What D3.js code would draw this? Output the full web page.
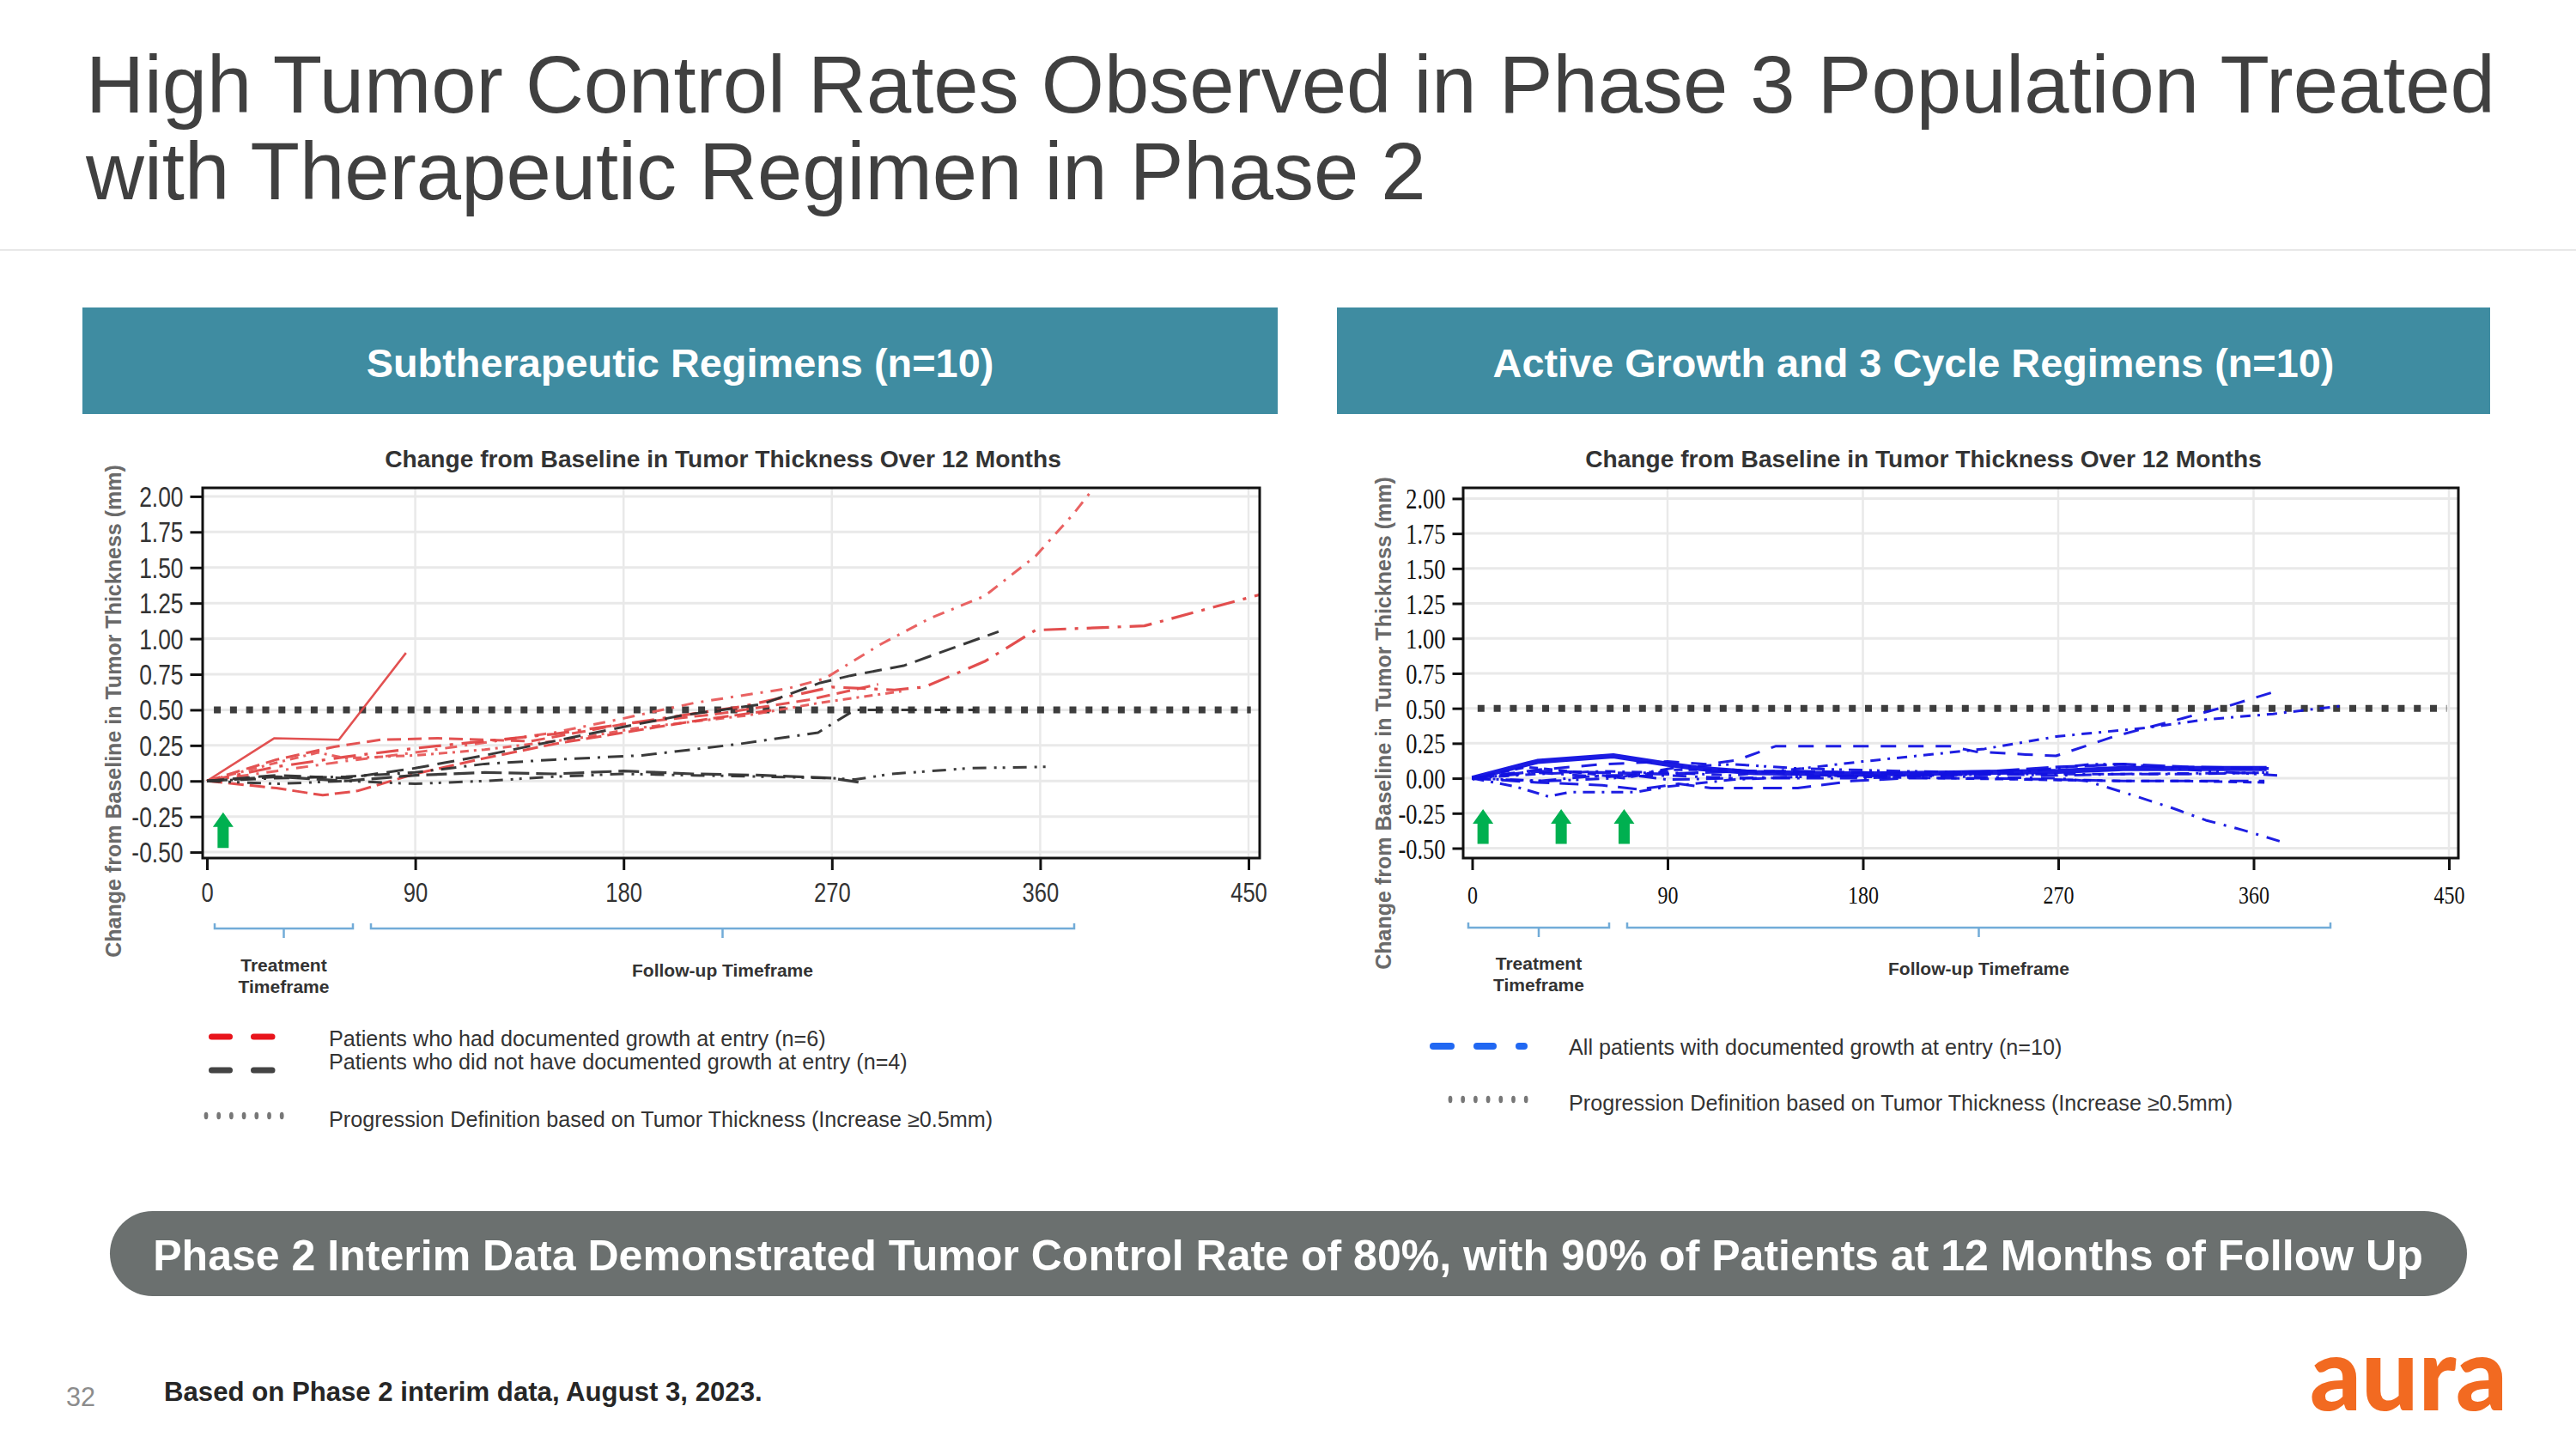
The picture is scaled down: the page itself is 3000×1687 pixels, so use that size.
<!DOCTYPE html>
<html><head><meta charset="utf-8">
<script src="https://cdn.jsdelivr.net/npm/d3@7"></script>
<style>html,body{margin:0;padding:0;background:#fff;}svg{display:block;}</style>
</head><body>
<svg id="c" width="3000" height="1687"></svg>
<script>
// ---------------- DATA ----------------
const xTicks = [0, 90, 180, 270, 360, 450];
const yTicks = [-0.50, -0.25, 0.00, 0.25, 0.50, 0.75, 1.00, 1.25, 1.50, 1.75, 2.00];
const progressionThreshold = 0.5;
const thresholdSpanLeft = [3, 451];
const thresholdSpanRight = [2.5, 449];
const leftArrowDays = [7];
const rightArrowDays = [5, 41, 70];
const arrowRange = [-0.47, -0.22];

// Subtherapeutic: documented growth at entry (red, n=6)
const red1 = [[0,0],[29,0.30],[57,0.29],[86,0.90]];
const red2 = [[0,0],[30,0.07],[60,0.14],[90,0.20],[120,0.27],[150,0.34],[180,0.44],[211,0.55],[251,0.65],[267,0.72],[291,0.96],[312,1.14],[336,1.30],[358,1.58],[374,1.87],[390,2.20]];
const red3 = [[0,0],[30,0.10],[60,0.17],[90,0.23],[120,0.28],[150,0.33],[180,0.40],[230,0.52],[270,0.66],[297,0.64],[310,0.66],[336,0.84],[358,1.06],[405,1.09],[455,1.31]];
const red4 = [[0,0],[30,0.15],[55,0.24],[75,0.29],[100,0.30],[140,0.28],[180,0.40],[220,0.47],[260,0.57],[290,0.68]];
const red5 = [[0,0],[28,0.12],[48,0.20],[60,0.16],[90,0.18],[120,0.22],[160,0.30],[185,0.37],[233,0.46],[265,0.55],[300,0.63]];
const red6 = [[0,0],[30,-0.05],[50,-0.10],[65,-0.07],[90,0.05],[120,0.16],[150,0.26],[180,0.34],[210,0.42],[245,0.50]];
// Subtherapeutic: no documented growth at entry (black, n=4)
const black1 = [[0,0],[30,0.04],[60,0.02],[90,0.09],[120,0.18],[150,0.28],[180,0.38],[205,0.46],[240,0.54],[265,0.69],[278,0.74],[301,0.81],[342,1.05]];
const black2 = [[0,0],[30,0.02],[60,0.03],[90,0.06],[120,0.12],[150,0.15],[188,0.18],[230,0.26],[264,0.34],[280,0.50],[332,0.50]];
const black3 = [[0,0],[30,-0.02],[60,0.00],[90,-0.02],[120,0.00],[150,0.03],[180,0.05],[210,0.04],[240,0.03],[270,0.02],[280,0.01],[296,0.05],[330,0.09],[365,0.10]];
const black4 = [[0,0],[30,0.03],[60,0.00],[90,0.04],[120,0.06],[150,0.05],[180,0.07],[210,0.05],[240,0.04],[270,0.02],[282,-0.01]];
// Active growth / 3 cycle regimens (blue, n=10)
const blue1 = [[0,0],[30,0.12],[65,0.16],[90,0.10],[105,0.07],[130,0.04],[180,0.03],[230,0.04],[270,0.05],[300,0.07],[330,0.07],[366,0.07]];
const blue2 = [[0,0],[30,0.06],[60,0.10],[90,0.12],[108,0.10],[122,0.13],[140,0.23],[220,0.23],[232,0.19],[255,0.17],[269,0.16],[296,0.30],[323,0.41],[349,0.52],[372,0.63]];
const blue3 = [[0,0],[30,0.03],[60,0.05],[90,0.04],[120,0.02],[152,0.07],[180,0.12],[205,0.16],[236,0.21],[270,0.30],[310,0.36],[338,0.42],[369,0.46],[402,0.52]];
const blue4 = [[0,0],[30,0.04],[60,0.01],[90,0.02],[120,0.00],[180,0.02],[230,0.01],[270,0.00],[283,-0.02],[300,-0.10],[322,-0.21],[338,-0.30],[355,-0.37],[372,-0.45]];
const blue5 = [[0,0],[30,-0.03],[60,-0.05],[77,-0.08],[95,-0.04],[110,-0.07],[150,-0.07],[175,-0.02],[200,0.00],[240,0.00],[270,-0.01],[300,-0.02],[330,-0.02],[365,-0.02]];
const blue6 = [[0,0],[20,-0.06],[35,-0.13],[45,-0.10],[75,-0.10],[90,-0.06],[120,-0.01],[150,0.01],[200,0.02],[250,0.03],[300,0.03],[365,0.04]];
const blue7 = [[0,0],[30,0.05],[60,0.04],[90,0.03],[120,0.05],[150,0.05],[180,0.04],[210,0.03],[240,0.05],[270,0.08],[300,0.10],[330,0.08],[367,0.07]];
const blue8 = [[0,0],[30,-0.02],[60,0.02],[75,0.02],[90,-0.01],[120,0.00],[150,0.00],[180,0.00],[210,0.02],[240,0.03],[270,0.02],[300,0.03],[330,0.03],[367,0.04]];
const blue9 = [[0,0],[25,0.08],[45,0.05],[70,0.00],[90,0.06],[120,0.06],[150,0.03],[180,0.01],[220,0.00],[260,-0.01],[300,-0.02],[330,-0.02],[365,-0.03]];
const blue10 = [[0,0],[35,-0.02],[65,0.00],[95,0.08],[120,0.10],[150,0.07],[200,0.05],[250,0.04],[285,0.10],[300,0.10],[340,0.05],[372,0.02]];

const titleLines = ["High Tumor Control Rates Observed in Phase 3 Population Treated", "with Therapeutic Regimen in Phase 2"];
const panelHeaders = ["Subtherapeutic Regimens (n=10)", "Active Growth and 3 Cycle Regimens (n=10)"];
const chartTitle = "Change from Baseline in Tumor Thickness Over 12 Months";
const yAxisTitle = "Change from Baseline in Tumor Thickness (mm)";
const leftLegend = ["Patients who had documented growth at entry (n=6)", "Patients who did not have documented growth at entry (n=4)", "Progression Definition based on Tumor Thickness (Increase \u22650.5mm)"];
const rightLegend = ["All patients with documented growth at entry (n=10)", "Progression Definition based on Tumor Thickness (Increase \u22650.5mm)"];
const bannerText = "Phase 2 Interim Data Demonstrated Tumor Control Rate of 80%, with 90% of Patients at 12 Months of Follow Up";
const footnote = "Based on Phase 2 interim data, August 3, 2023.";
const pageNumber = "32";
const logoText = "aura";

// ---------------- DRAWING ----------------
const SANS = "'Liberation Sans', Arial, Helvetica, sans-serif";
const SERIF = "'Liberation Serif', 'Times New Roman', serif";
const svg = d3.select('#c');
svg.append('rect').attr('width', 3000).attr('height', 1687).attr('fill', '#fff');

function txt(g, o) {
  const t = g.append('text')
    .attr('x', o.x)
    .attr('font-family', o.family || SANS)
    .attr('font-size', o.size)
    .attr('font-weight', o.weight || 'normal')
    .attr('fill', o.fill || '#333')
    .attr('text-anchor', o.anchor || 'start')
    .text(o.text);
  let size = o.size;
  if (o.width) {
    const l = t.node().getComputedTextLength();
    size = size * o.width / l;
    t.attr('font-size', size);
  }
  t.attr('y', o.cy + 0.358 * size);
  return size;
}

// Title
const tsize = txt(svg, {x: 100, cy: 97.6, text: titleLines[0], size: 90, fill: '#404040', width: 2806});
txt(svg, {x: 100, cy: 198, text: titleLines[1], size: tsize, fill: '#404040'});
svg.append('line').attr('x1', 0).attr('x2', 3000).attr('y1', 291).attr('y2', 291).attr('stroke', '#e8e8e8').attr('stroke-width', 2);

// Header boxes
const headerBoxes = [[96, 1488], [1557, 2900]];
headerBoxes.forEach((b, i) => {
  svg.append('rect').attr('x', b[0]).attr('y', 358).attr('width', b[1] - b[0]).attr('height', 124).attr('fill', '#3f8ca1');
  txt(svg, {x: (b[0] + b[1]) / 2, cy: 422, text: panelHeaders[i], size: 46, weight: 'bold', fill: '#fff', anchor: 'middle', width: i === 0 ? 731 : 980});
});

const leftSeries = [
  {d: red1, c: '#e04848', w: 2.6, dash: null},
  {d: red2, c: '#e85a5a', w: 3, dash: '14 9 3 9'},
  {d: red3, c: '#e04545', w: 3.2, dash: '26 10 4 10'},
  {d: red4, c: '#e24a4a', w: 3, dash: '16 8'},
  {d: red5, c: '#e65656', w: 3, dash: '10 6 3 6'},
  {d: red6, c: '#e24444', w: 3, dash: '18 7'},
  {d: black1, c: '#2e2e2e', w: 3, dash: '20 10'},
  {d: black2, c: '#2e2e2e', w: 3, dash: '18 9 3 9'},
  {d: black3, c: '#333', w: 3, dash: '16 9 3 7 3 9'},
  {d: black4, c: '#333', w: 3.2, dash: '24 8'}
];
const rightSeries = [
  {d: blue1, c: '#0f0fe0', w: 6, dash: null},
  {d: blue2, c: '#1212e0', w: 3, dash: '18 14'},
  {d: blue3, c: '#1212e0', w: 3, dash: '12 8 3 8'},
  {d: blue4, c: '#1212e0', w: 3, dash: '16 10 3 10'},
  {d: blue5, c: '#1212e0', w: 3, dash: '22 12'},
  {d: blue6, c: '#1212e0', w: 3, dash: '14 8 3 8'},
  {d: blue7, c: '#1212e0', w: 3.4, dash: '26 8'},
  {d: blue8, c: '#1212e0', w: 3, dash: '20 8 3 8'},
  {d: blue9, c: '#1212e0', w: 3, dash: '10 7'},
  {d: blue10, c: '#1212e0', w: 3, dash: '16 8 3 6 3 8'}
];

const panels = [
  {id: 'L', series: leftSeries, xr: [241, 1454], yr: [992.1, 577.9], frame: [236, 568, 1467, 999],
   font: SANS, ySize: 33, xSize: 32, xBase: 51, labelFill: '#333', tickLen: 14.5, squeeze: 0.8,
   arrows: leftArrowDays, thr: thresholdSpanLeft, ytX: 132, ytCY: 828, ctX: 842},
  {id: 'R', series: rightSeries, xr: [1714.5, 2852], yr: [987.5, 580.4], frame: [1704, 568, 2863, 999],
   font: SERIF, ySize: 33, xSize: 30, xBase: 53, labelFill: '#111', tickLen: 12.5, squeeze: 0.8,
   arrows: rightArrowDays, thr: thresholdSpanRight, ytX: 1611, ytCY: 842, ctX: 2240}
];

panels.forEach(p => {
  const g = svg.append('g');
  const x = d3.scaleLinear().domain([0, 450]).range(p.xr);
  const y = d3.scaleLinear().domain([-0.5, 2.0]).range(p.yr);
  const [fx0, fy0, fx1, fy1] = p.frame;

  // chart title
  txt(g, {x: p.ctX, cy: 534, text: chartTitle, size: 27, weight: 'bold', fill: '#333', anchor: 'middle', width: 788});

  // grid
  g.append('g').selectAll('line').data(yTicks).join('line')
    .attr('x1', fx0).attr('x2', fx1).attr('y1', d => y(d)).attr('y2', d => y(d))
    .attr('stroke', '#e9e9e9').attr('stroke-width', 3);
  g.append('g').selectAll('line').data(xTicks.filter(d => d > 0)).join('line')
    .attr('x1', d => x(d)).attr('x2', d => x(d)).attr('y1', fy0).attr('y2', fy1)
    .attr('stroke', '#e9e9e9').attr('stroke-width', 2.5);

  // clip
  const cid = 'clip' + p.id;
  svg.append('clipPath').attr('id', cid).append('rect')
    .attr('x', fx0).attr('y', fy0).attr('width', fx1 - fx0).attr('height', fy1 - fy0);

  // threshold
  g.append('line').attr('x1', x(p.thr[0])).attr('x2', x(p.thr[1]))
    .attr('y1', y(progressionThreshold)).attr('y2', y(progressionThreshold))
    .attr('stroke', '#3d3d3d').attr('stroke-width', 8).attr('stroke-dasharray', '8 10.8');

  // series
  const line = d3.line().x(d => x(d[0])).y(d => y(d[1]));
  const sg = g.append('g').attr('clip-path', `url(#${cid})`);
  p.series.forEach(s => {
    sg.append('path').attr('d', line(s.d)).attr('fill', 'none')
      .attr('stroke', s.c).attr('stroke-width', s.w)
      .attr('stroke-dasharray', s.dash).attr('stroke-linejoin', 'round').attr('opacity', 0.95);
  });

  // arrows
  p.arrows.forEach(a => {
    const cx = x(a), yt = y(arrowRange[1]), yb = y(arrowRange[0]);
    const hw = 12, sw = 6.5, hh = 17;
    g.append('path').attr('fill', '#00b050')
      .attr('d', `M${cx},${yt} L${cx + hw},${yt + hh} L${cx + sw},${yt + hh} L${cx + sw},${yb} L${cx - sw},${yb} L${cx - sw},${yt + hh} L${cx - hw},${yt + hh} Z`);
  });

  // frame
  g.append('rect').attr('x', fx0).attr('y', fy0).attr('width', fx1 - fx0).attr('height', fy1 - fy0)
    .attr('fill', 'none').attr('stroke', '#111').attr('stroke-width', 3);

  // axes
  const pad = 8;
  const ya = g.append('g').attr('transform', `translate(${fx0},0)`)
    .call(d3.axisLeft(y).tickValues(yTicks).tickSize(p.tickLen).tickPadding(pad).tickFormat(d => d.toFixed(2)));
  ya.select('.domain').remove();
  ya.selectAll('line').attr('stroke', '#111').attr('stroke-width', 3);
  ya.selectAll('text').attr('font-family', p.font).attr('font-size', p.ySize).attr('fill', p.labelFill)
    .attr('dy', '0.35em').attr('x', -(p.tickLen + pad) / p.squeeze).attr('transform', `scale(${p.squeeze},1)`);

  const xa = g.append('g').attr('transform', `translate(0,${fy1})`)
    .call(d3.axisBottom(x).tickValues(xTicks).tickSize(14).tickFormat(d3.format('d')));
  xa.select('.domain').remove();
  xa.selectAll('line').attr('stroke', '#111').attr('stroke-width', 3);
  xa.selectAll('text').attr('font-family', p.font).attr('font-size', p.xSize).attr('fill', p.labelFill)
    .attr('dy', null).attr('y', p.xBase).attr('transform', `scale(${p.squeeze},1)`);

  // y axis title
  const yt = g.append('g').attr('transform', `translate(${p.ytX},${p.ytCY}) rotate(-90)`);
  txt(yt, {x: 0, cy: 0, text: yAxisTitle, size: 24, weight: 'bold', fill: '#6a6a6a', anchor: 'middle', width: 574});
});

// Brackets & timeframe labels
const bracketSets = [
  {tr: [250, 411], fu: [432, 1251], y: 1081, trC: [1123, 1148], fuC: 1129},
  {tr: [1710, 1874], fu: [1895, 2714], y: 1080, trC: [1121, 1146], fuC: 1127}
];
bracketSets.forEach(b => {
  [b.tr, b.fu].forEach(r => {
    const cx = (r[0] + r[1]) / 2;
    svg.append('path').attr('fill', 'none').attr('stroke', '#72acd8').attr('stroke-width', 2.5)
      .attr('d', `M${r[0]},${b.y - 6} V${b.y} H${r[1]} V${b.y - 6} M${cx},${b.y} V${b.y + 11}`);
  });
  const tc = (b.tr[0] + b.tr[1]) / 2, fc = (b.fu[0] + b.fu[1]) / 2;
  const s = txt(svg, {x: tc, cy: b.trC[1], text: 'Timeframe', size: 20, weight: 'bold', fill: '#333', anchor: 'middle', width: 106});
  txt(svg, {x: tc, cy: b.trC[0], text: 'Treatment', size: s, weight: 'bold', fill: '#333', anchor: 'middle'});
  txt(svg, {x: fc, cy: b.fuC, text: 'Follow-up Timeframe', size: s, weight: 'bold', fill: '#333', anchor: 'middle'});
});

// Legends
function dashSym(x1, x2, yy, col, w) {
  svg.append('line').attr('x1', x1 + w / 2).attr('x2', x2 - w / 2).attr('y1', yy).attr('y2', yy)
    .attr('stroke', col).attr('stroke-width', w).attr('stroke-linecap', 'round');
}
function dotSym(x1, yy) {
  for (let i = 0; i < 7; i++) {
    svg.append('ellipse').attr('cx', x1 + 2 + i * 14.7).attr('cy', yy).attr('rx', 2.4).attr('ry', 4.2).attr('fill', '#777');
  }
}
dashSym(243, 271, 1207, '#e8141c', 7);
dashSym(292, 320.5, 1207, '#e8141c', 7);
dashSym(243, 271, 1246, '#444', 7);
dashSym(292, 320.5, 1246, '#444', 7);
dotSym(238, 1299);
const ls = txt(svg, {x: 383, cy: 1209, text: leftLegend[0], size: 24, fill: '#333', width: 579});
txt(svg, {x: 383, cy: 1236, text: leftLegend[1], size: ls, fill: '#333'});
txt(svg, {x: 383, cy: 1303, text: leftLegend[2], size: ls, fill: '#333'});

dashSym(1665, 1694, 1218, '#2168f2', 8);
dashSym(1716, 1743, 1218, '#2168f2', 8);
dashSym(1765, 1779, 1218, '#2168f2', 8);
dotSym(1687, 1280);
txt(svg, {x: 1827, cy: 1219, text: rightLegend[0], size: ls, fill: '#333'});
txt(svg, {x: 1827, cy: 1284, text: rightLegend[1], size: ls, fill: '#333'});

// Banner
svg.append('rect').attr('x', 128).attr('y', 1410).attr('width', 2745).attr('height', 99).attr('rx', 49.5).attr('fill', '#6b706f');
txt(svg, {x: 1500, cy: 1461, text: bannerText, size: 48, weight: 'bold', fill: '#fff', anchor: 'middle', width: 2644});

// Footer
txt(svg, {x: 94, cy: 1626, text: pageNumber, size: 26, fill: '#8c8c8c', anchor: 'middle', width: 34});
txt(svg, {x: 191, cy: 1620, text: footnote, size: 28, weight: 'bold', fill: '#262626', width: 697});
const lg = svg.append('text').attr('x', 2690).attr('font-family', "Lato, 'Open Sans', sans-serif").attr('font-weight', 900)
  .attr('font-size', 100).attr('fill', '#f26a21').text(logoText);
const ll = lg.node().getComputedTextLength();
lg.attr('font-size', 100 * 230 / ll);
lg.attr('y', 1642).attr('textLength', 230).attr('lengthAdjust', 'spacingAndGlyphs');
</script>
</body></html>
